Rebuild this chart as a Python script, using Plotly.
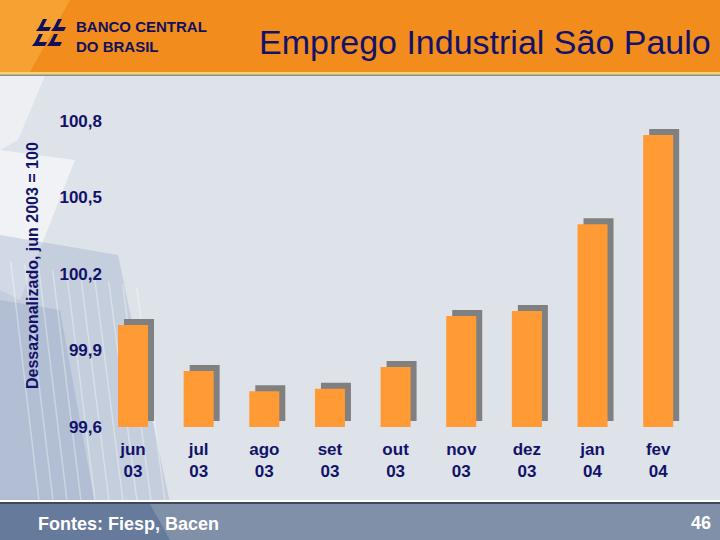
import plotly.graph_objects as go

# ---- data ----
months = ["jun<br>03", "jul<br>03", "ago<br>03", "set<br>03", "out<br>03",
          "nov<br>03", "dez<br>03", "jan<br>04", "fev<br>04"]
values = [100.0, 99.82, 99.74, 99.75, 99.835, 100.035, 100.055, 100.395, 100.745]
y_ticks = [99.6, 99.9, 100.2, 100.5, 100.8]
y_tick_text = ["99,6", "99,9", "100,2", "100,5", "100,8"]
base_value = 99.6

title = "Emprego Industrial São Paulo"
y_title = "Dessazonalizado, jun 2003 = 100"
source = "Fontes: Fiesp, Bacen"
page_no = "46"
logo_text = "BANCO CENTRAL<br>DO BRASIL"

# ---- layout geometry (pixels) ----
W, H = 720, 540
L, R, T, B = 108, 29, 105, 113
pw, ph = W - L - R, H - T - B
px_per_unit = 255.0
x_range = [-0.381, 8.5]
y_range = [base_value, base_value + ph / px_per_unit]
cat_px = pw / (x_range[1] - x_range[0])


def px(x):
    return (x - L) / pw


def py(y):
    return (H - B - y) / ph


bar_w = 30 / cat_px
shift_x = 6 / cat_px
shift_y = 6 / px_per_unit
heights = [v - base_value for v in values]

NAVY = "#12126a"
FONT = "Liberation Sans, Arial, sans-serif"

fig = go.Figure()
fig.add_trace(go.Bar(x=months, y=heights, base=base_value + shift_y,
                     width=bar_w, offset=-bar_w / 2 + shift_x,
                     marker=dict(color="#808080", line=dict(width=0)),
                     hoverinfo="skip", showlegend=False))
fig.add_trace(go.Bar(x=months, y=heights, base=base_value,
                     width=bar_w, offset=-bar_w / 2,
                     marker=dict(color="#ff9a35", line=dict(width=0)),
                     customdata=values, hovertemplate="%{customdata}<extra></extra>",
                     showlegend=False))

shapes = []


def rect(x0, y0, x1, y1, color, layer="below"):
    shapes.append(dict(type="rect", xref="paper", yref="paper",
                       x0=px(x0), x1=px(x1), y0=py(y1), y1=py(y0),
                       fillcolor=color, line=dict(width=0), layer=layer))


def poly(points, color, layer="below", line=None):
    d = "M " + " L ".join(f"{px(a):.4f},{py(b):.4f}" for a, b in points) + " Z"
    shapes.append(dict(type="path", xref="paper", yref="paper", path=d,
                       fillcolor=color, line=line or dict(width=0), layer=layer))


# background decorations (left building / paper sheets)
poly([(0, 76), (45, 76), (18, 140), (0, 150)], "rgba(255,255,255,0.45)")
poly([(0, 150), (75, 160), (20, 300), (0, 290)], "rgba(255,255,255,0.55)")
poly([(0, 235), (118, 255), (170, 503), (0, 503)], "rgba(140,160,195,0.30)")
poly([(0, 300), (60, 310), (95, 503), (0, 503)], "rgba(120,145,185,0.25)")
for xx in range(10, 150, 14):
    poly([(xx, 260 + xx * 0.2), (xx + 1.5, 260 + xx * 0.2), (xx + 30, 503), (xx + 28.5, 503)],
         "rgba(255,255,255,0.35)")

# header band
rect(0, 0, W, 72, "#f28c1c")
poly([(0, 0), (70, 0), (30, 72), (0, 72)], "rgba(255,200,90,0.35)")
rect(0, 72, W, 74.5, "#f6d36a")
rect(0, 74.5, W, 76, "#8c8c8c")

# footer band
rect(0, 500, W, 502, "#ffffff")
rect(0, 502, W, 504, "#3d4a5e")
rect(0, 504, W, H, "#8090a8")
poly([(0, 504), (150, 504), (170, 540), (0, 540)], "rgba(70,95,140,0.45)")

# logo icon (stylised: four hooked strokes in two rows)
for dx, dy in [(0, 0), (15, 0), (-4, 15), (11, 15)]:
    x0, y0 = 36 + dx, 19 + dy
    poly([(x0 + 7, y0), (x0 + 11, y0), (x0 + 7, y0 + 8), (x0 + 15, y0 + 8),
          (x0 + 13, y0 + 12), (x0, y0 + 12), (x0 + 3, y0 + 8)], "#10105e", layer="above")

annotations = [
    dict(text=title, x=px(713), y=py(42), xref="paper", yref="paper",
         xanchor="right", yanchor="middle", showarrow=False,
         font=dict(family=FONT, size=34, color=NAVY)),
    dict(text=f"<b>{logo_text}</b>", x=px(74), y=py(36), xref="paper", yref="paper",
         xanchor="left", yanchor="middle", align="left", showarrow=False,
         font=dict(family=FONT, size=15, color="#10105e")),
    dict(text=f"<b>{y_title}</b>", x=px(32), y=py(266), xref="paper", yref="paper",
         xanchor="center", yanchor="middle", textangle=-90, showarrow=False,
         font=dict(family=FONT, size=16, color=NAVY)),
    dict(text=f"<b>{source}</b>", x=px(36), y=py(524), xref="paper", yref="paper",
         xanchor="left", yanchor="middle", showarrow=False,
         font=dict(family=FONT, size=18, color="white")),
    dict(text=f"<b>{page_no}</b>", x=px(713), y=py(523), xref="paper", yref="paper",
         xanchor="right", yanchor="middle", showarrow=False,
         font=dict(family=FONT, size=18, color="white")),
]

fig.update_layout(
    width=W, height=H,
    margin=dict(l=L, r=R, t=T, b=B, pad=0),
    paper_bgcolor="#dee2e9",
    plot_bgcolor="rgba(0,0,0,0)",
    barmode="overlay",
    shapes=shapes,
    annotations=annotations,
    xaxis=dict(range=x_range, showgrid=False, zeroline=False, showline=False,
               ticks="", tickfont=dict(family=FONT, size=17, color=NAVY),
               ticklabelstandoff=10,
               tickmode="array", tickvals=months,
               ticktext=[f"<b>{m}</b>" for m in months], fixedrange=True),
    yaxis=dict(range=y_range, showgrid=False, zeroline=False, showline=False,
               ticks="", tickmode="array", tickvals=y_ticks,
               ticktext=[f"<b>{t}</b>" for t in y_tick_text],
               ticklabelstandoff=5,
               tickfont=dict(family=FONT, size=17, color=NAVY), fixedrange=True),
    showlegend=False,
)

fig.write_html("out.html", config={"displayModeBar": False},
               post_script="document.body.style.margin='0';document.body.style.overflow='hidden';")
